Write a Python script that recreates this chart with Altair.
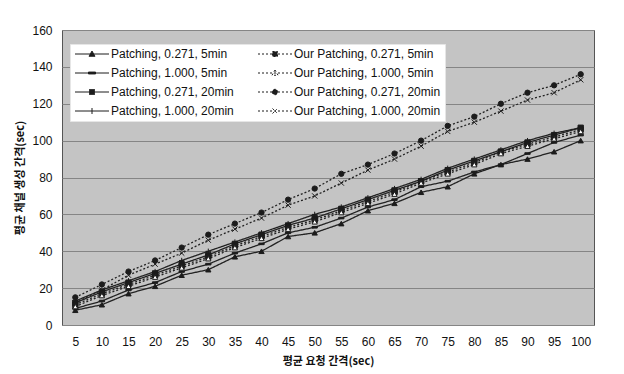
import altair as alt
import pandas as pd

x_vals = [5, 10, 15, 20, 25, 30, 35, 40, 45, 50, 55, 60, 65, 70, 75, 80, 85, 90, 95, 100]

names = [
    "Patching, 0.271, 5min",
    "Patching, 1.000, 5min",
    "Patching, 0.271, 20min",
    "Patching, 1.000, 20min",
    "Our Patching, 0.271, 5min",
    "Our Patching, 1.000, 5min",
    "Our Patching, 0.271, 20min",
    "Our Patching, 1.000, 20min",
]

p_0271_5 = [8, 11, 17, 21, 27, 30, 37, 40, 48, 50, 55, 62, 66, 72, 75, 82, 87, 90, 94, 100]
p_1000_5 = [9, 13, 19, 23, 29, 33, 39, 44, 50, 53, 58, 64, 68, 75, 78, 83, 87, 93, 99, 103]
p_0271_20 = [12, 18, 23, 28, 33, 38, 44, 49, 54, 58, 63, 68, 73, 78, 84, 89, 94, 99, 103, 107]
p_1000_20 = [13, 19, 24, 29, 35, 40, 45, 50, 55, 60, 64, 69, 74, 79, 85, 90, 95, 100, 104, 107]
o_0271_5 = [11, 17, 22, 27, 32, 37, 43, 48, 53, 57, 62, 67, 72, 78, 83, 88, 94, 98, 102, 106]
o_1000_5 = [10, 16, 21, 26, 31, 36, 42, 47, 52, 56, 61, 66, 71, 77, 82, 87, 93, 97, 101, 105]
o_0271_20 = [15, 22, 29, 35, 42, 49, 55, 61, 68, 74, 82, 87, 93, 100, 108, 113, 120, 126, 130, 136]
o_1000_20 = [12, 19, 27, 33, 39, 46, 52, 58, 65, 70, 77, 84, 90, 97, 105, 110, 116, 122, 126, 133]

series_values = [p_0271_5, p_1000_5, p_0271_20, p_1000_20, o_0271_5, o_1000_5, o_0271_20, o_1000_20]

rows = []
for name, vals in zip(names, series_values):
    for xv, yv in zip(x_vals, vals):
        rows.append({"x": xv, "y": yv, "series": name, "key": name})
df = pd.DataFrame(rows)

INK = "#1c1c1c"
dash_range = [[1, 0], [1, 0], [1, 0], [1, 0], [2, 2], [2, 2], [2, 2], [2, 2]]

plot_shapes = [
    "triangle-up",
    "M-1,-0.3H1V0.3H-1Z",
    "square",
    "M-1,0H1M0,-1V1",
    "square",
    "triangle-up",
    "circle",
    "M-1,-1L1,1M-1,1L1,-1",
]
fill_range = [INK, INK, INK, INK, INK, "#ffffff", INK, INK]

# legend symbols: short line with the marker in its middle (unit = 5 px)
legend_shapes = [
    "M-1,0H5.8M2.4,-0.6L3,0.45H1.8Z",
    "M-1,0H5.8M1.7,-0.2H3.1V0.2H1.7Z",
    "M-1,0H5.8M1.9,-0.5H2.9V0.5H1.9Z",
    "M-1,0H5.8M2.4,-0.6V0.6",
    "M-1,0H5.8M1.9,-0.5H2.9V0.5H1.9Z",
    "M-1,0H5.8M2.4,-0.6L3,0.45H1.8Z",
    "M-1,0H5.8M1.85,0A0.55,0.55 0 1,0 2.95,0A0.55,0.55 0 1,0 1.85,0Z",
    "M-1,0H5.8M1.9,-0.5L2.9,0.5M1.9,0.5L2.9,-0.5",
]

x_enc = alt.X(
    "x:O",
    scale=alt.Scale(type="point", padding=0.5),
    axis=alt.Axis(
        title="평균 요청 간격(sec)",
        labelAngle=0,
        ticks=False,
        domain=False,
        grid=False,
        labelPadding=11,
        titlePadding=8,
    ),
)
y_enc = alt.Y(
    "y:Q",
    scale=alt.Scale(domain=[0, 160]),
    axis=alt.Axis(
        title="평균 채널 생성 간격(sec)",
        values=list(range(0, 161, 20)),
        ticks=False,
        domain=False,
        grid=True,
        gridColor="#858585",
        gridWidth=1,
        labelPadding=10,
        titlePadding=6,
    ),
)

base = alt.Chart(df)

lines = base.mark_line(color="#222222", strokeWidth=1.3).encode(
    x=x_enc,
    y=y_enc,
    strokeDash=alt.StrokeDash(
        "series:N", scale=alt.Scale(domain=names, range=dash_range), legend=None
    ),
    detail="series:N",
)

points = base.mark_point(filled=True, stroke=INK, strokeWidth=1, size=28, opacity=1).encode(
    x=x_enc,
    y=y_enc,
    shape=alt.Shape("series:N", scale=alt.Scale(domain=names, range=plot_shapes), legend=None),
    fill=alt.Fill("series:N", scale=alt.Scale(domain=names, range=fill_range), legend=None),
)

leg = alt.Legend(
    title=None,
    orient="none",
    legendX=8,
    legendY=14,
    columns=2,
    columnPadding=22,
    rowPadding=7,
    padding=4,
    labelOffset=25,
    symbolSize=100,
    symbolStrokeWidth=1,
    symbolStrokeColor=INK,
    symbolOpacity=1,
    labelFontSize=12,
    labelFont="Liberation Sans",
    labelColor="#111111",
    fillColor="#ffffff",
    strokeColor="#e6e6e6",
    symbolLimit=0,
    labelLimit=300,
)

legend_layer = base.transform_filter("datum.x < 0").mark_point(
    filled=False, strokeWidth=1, opacity=1
).encode(
    x=x_enc,
    y=y_enc,
    shape=alt.Shape("key:N", scale=alt.Scale(domain=names, range=legend_shapes), legend=leg),
    fill=alt.Fill("key:N", scale=alt.Scale(domain=names, range=fill_range), legend=leg),
    stroke=alt.Stroke("key:N", scale=alt.Scale(domain=names, range=[INK] * 8), legend=leg),
    strokeDash=alt.StrokeDash("key:N", scale=alt.Scale(domain=names, range=dash_range), legend=leg),
)

chart = (
    alt.layer(lines, points, legend_layer)
    .resolve_scale(shape="independent", fill="independent", stroke="independent",
                   strokeDash="independent")
    .properties(
        width=532,
        height=295,
        autosize=alt.AutoSizeParams(type="none"),
        padding={"left": 62, "top": 30, "right": 30, "bottom": 49},
        background="#ffffff",
    )
    .configure_view(fill="#c4c4c4", stroke="#555555", strokeWidth=1)
    .configure_axis(
        labelFont="Liberation Sans",
        labelFontSize=12,
        labelColor="#111111",
        titleFont="Noto Sans CJK KR",
        titleFontSize=11,
        titleFontWeight="bold",
        titleColor="#111111",
    )
)

chart.save("out.html", embed_options={"renderer": "svg", "actions": False})
